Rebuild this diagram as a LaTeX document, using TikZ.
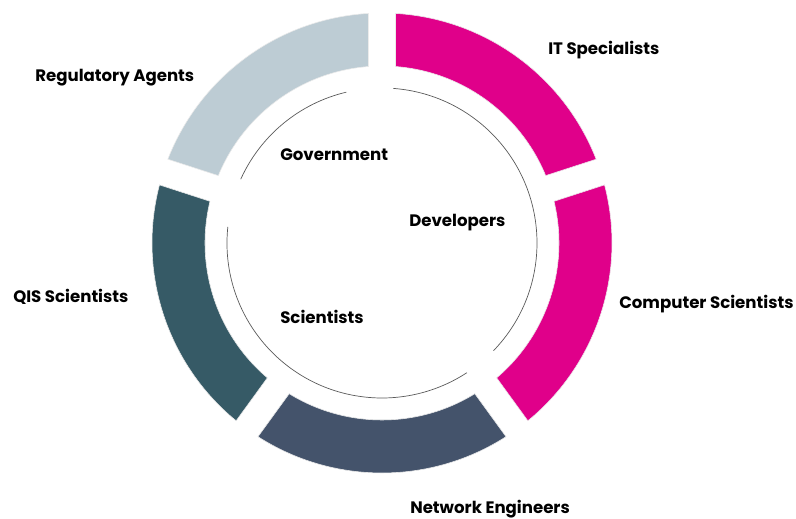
\documentclass[tikz,border=0pt]{standalone}
\usepackage{fontspec}
\setmainfont{Poppins}
\usepackage{tikz}
\definecolor{regblue}{HTML}{BDCCD4}
\definecolor{itpink}{HTML}{E0008A}
\definecolor{qisteal}{HTML}{365A66}
\definecolor{netslate}{HTML}{44536B}
\definecolor{arcgray}{HTML}{5A5A5A}

\begin{document}
\begin{tikzpicture}[x=0.025cm,y=0.025cm,
    seglabel/.style={font=\bfseries\fontsize{11.8}{14}\selectfont, anchor=base west, inner sep=0pt},
    thinarc/.style={arcgray, line width=0.5pt}]
    \useasboundingbox (-382,-276) rectangle (414,243);
    % Outer ring segments
    \foreach \a/\col in {18/itpink,90/regblue,162/qisteal,234/netslate,306/itpink}{
        \fill[\col, draw=black!8, line width=0.4pt] (\a+3.365:230) arc[start angle=\a+3.365, end angle=\a+72-3.365, radius=230]
            -- (\a+72-4.374:177) arc[start angle=\a+72-4.374, end angle=\a+4.374, radius=177] -- cycle;
    }
    % Inner arcs
    \draw[thinarc] (103.3:155) arc[start angle=103.3, end angle=155.7, radius=155];
    \draw[thinarc] (-44:155) arc[start angle=-44, end angle=85.8, radius=155];
    \draw[thinarc] (174:155) arc[start angle=174, end angle=303.2, radius=155];
    % Outer labels
    \node[seglabel] (reg) at (-347,161) {Regulatory Agents};
    \node[seglabel] (its) at (166,188) {IT Specialists};
    \node[seglabel] (comp) at (237,-66) {Computer Scientists};
    \node[seglabel] (qis) at (-369,-60) {QIS Scientists};
    \node[seglabel] (net) at (28,-270) {Network Engineers};
    % Inner labels
    \node[seglabel] (gov) at (-102,82) {Government};
    \node[seglabel] (dev) at (27,16) {Developers};
    \node[seglabel] (sci) at (-102,-81) {Scientists};
\end{tikzpicture}
\end{document}
